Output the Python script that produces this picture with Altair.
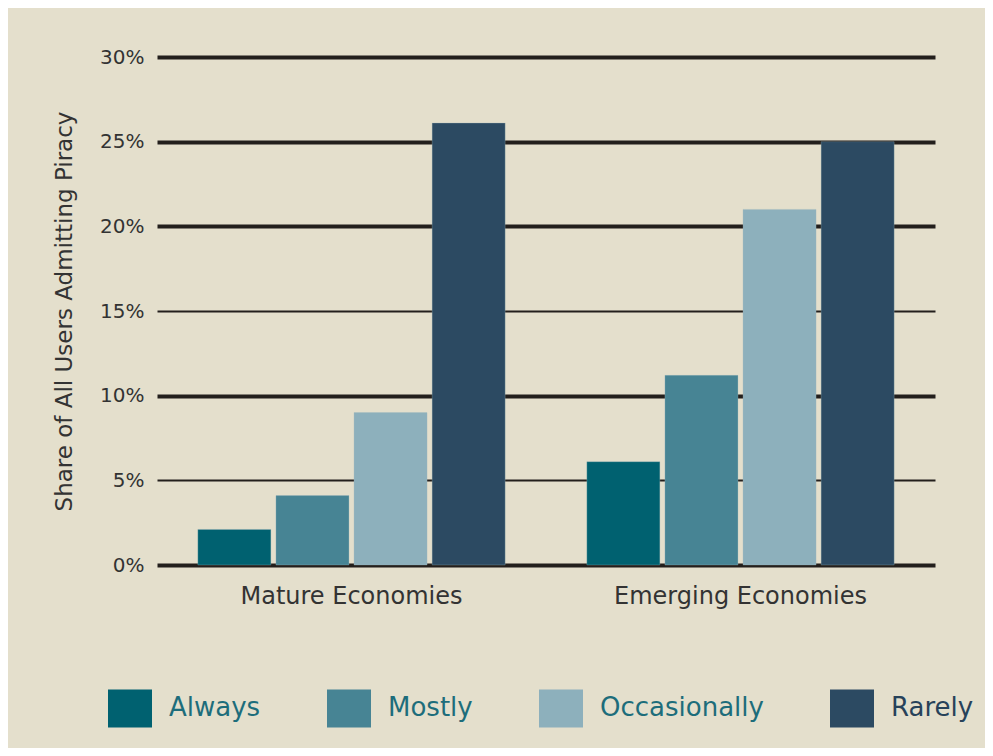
import altair as alt
import pandas as pd

groups = ["Mature Economies", "Emerging Economies"]
frequencies = ["Always", "Mostly", "Occasionally", "Rarely"]
mature_values = [2.1, 4.1, 9.0, 26.1]
emerging_values = [6.1, 11.2, 21.0, 25.0]
colors = ["#006170", "#478494", "#8db0bc", "#2c4a62"]
y_ticks = [0, 5, 10, 15, 20, 25, 30]

rows = []
for g, vals in zip(groups, [mature_values, emerging_values]):
    for f, v in zip(frequencies, vals):
        rows.append({"group": g, "frequency": f, "share": v})
df = pd.DataFrame(rows)

bg = "#e4dfcc"

chart = alt.Chart(df).mark_bar(stroke="#9fb8be", strokeWidth=0.6, strokeOpacity=0.5).encode(
    x=alt.X("group:N", sort=groups, title=None,
            scale=alt.Scale(paddingInner=0.21, paddingOuter=0.105),
            axis=alt.Axis(labelAngle=0, labelFontSize=24, labelFont="DejaVu Sans",
                          labelColor="#333333", labelPadding=19, labelLimit=0,
                          ticks=False, domain=False)),
    xOffset=alt.XOffset("frequency:N", sort=frequencies,
                        scale=alt.Scale(paddingInner=0.065, paddingOuter=0)),
    y=alt.Y("share:Q", title="Share of All Users Admitting Piracy",
            scale=alt.Scale(domain=[0, 30], nice=False),
            axis=alt.Axis(values=y_ticks, labelExpr="datum.value + '%'",
                          labelFontSize=20, labelFont="DejaVu Sans", labelColor="#333333",
                          labelPadding=13, ticks=False, domain=False,
                          grid=True, gridColor="#231f1c",
                          gridWidth=alt.ExprRef("datum.value == 5 || datum.value == 15 ? 2 : 4"),
                          titleFontSize=23, titleFont="DejaVu Sans", titleFontWeight="normal",
                          titleColor="#333333", titlePadding=23)),
    color=alt.Color("frequency:N", sort=frequencies,
                    scale=alt.Scale(domain=frequencies, range=colors),
                    legend=alt.Legend(title=None, orient="none", direction="horizontal",
                                      legendX=-49, legendY=629,
                                      symbolType="M-1,-0.864L1,-0.864L1,0.864L-1,0.864Z",
                                      symbolSize=1936, symbolStrokeWidth=0,
                                      labelFontSize=26, labelFont="DejaVu Sans",
                                      labelColor=alt.ExprRef("datum.label == 'Rarely' ? '#27425a' : '#1d6d7b'"),
                                      labelOffset=17, columnPadding=66, labelLimit=0)),
).properties(
    width=778, height=508,
    autosize=alt.AutoSizeParams(type="none"),
    padding={"left": 149, "top": 49, "right": 50, "bottom": 183},
    background=bg,
).configure_view(stroke=None).configure_axis(gridCap="butt")

chart.save("out.html", embed_options={"renderer": "svg", "actions": False})
